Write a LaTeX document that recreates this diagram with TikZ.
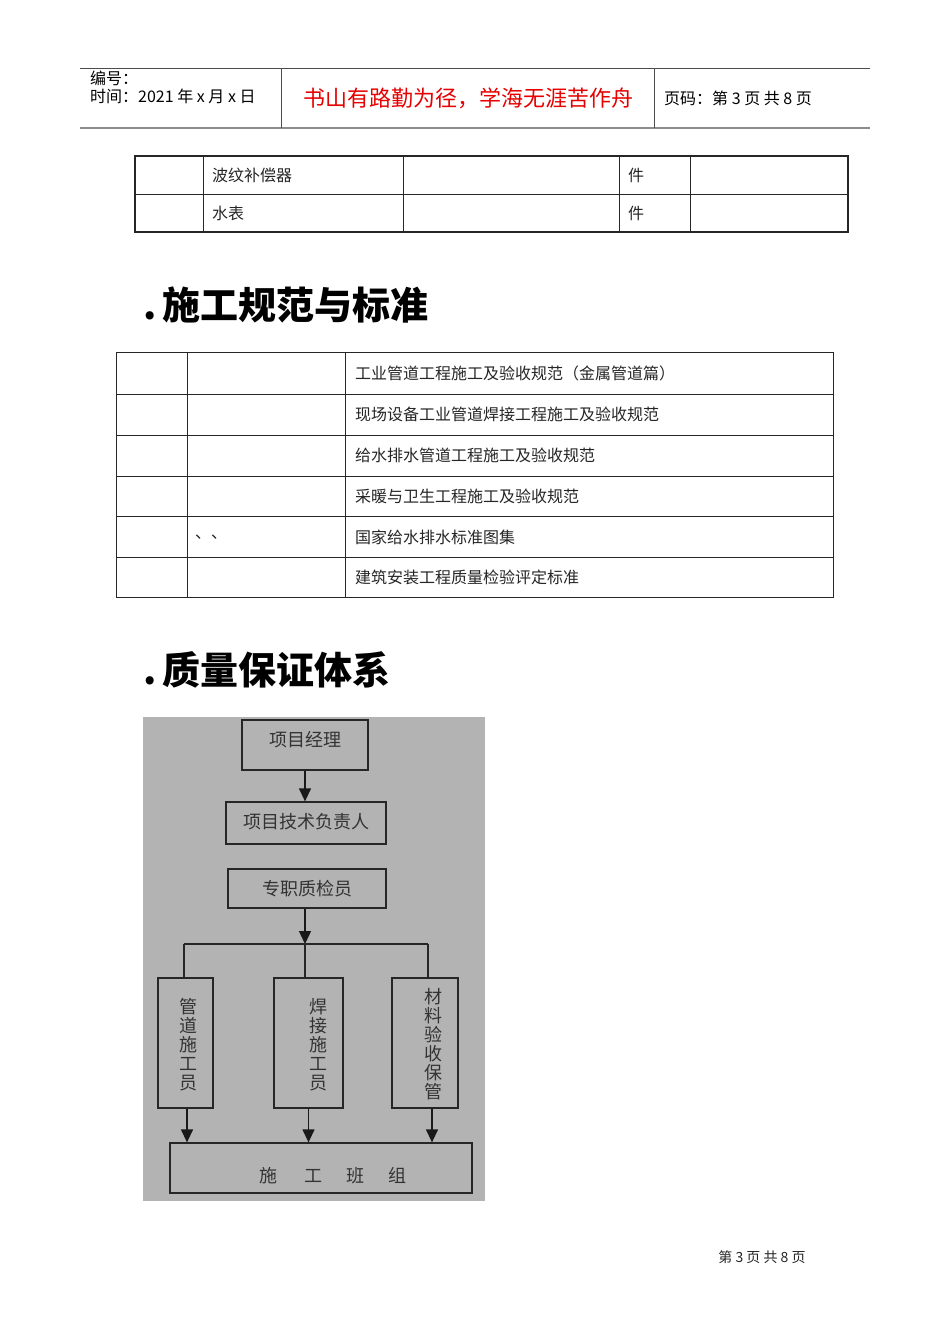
\documentclass[tikz,border=0pt]{standalone}
\usepackage{fontspec}
\setmainfont{Noto Sans CJK SC}
\usetikzlibrary{arrows.meta}
\definecolor{bggray}{RGB}{179,179,179}
\definecolor{hdrred}{RGB}{230,0,0}
\begin{document}
\begin{tikzpicture}[x=1pt,y=-1pt,
  cell/.style={anchor=west,inner sep=0pt,font=\fontsize{16}{16}\selectfont,text=black!85},
  hdr/.style={anchor=west,inner sep=0pt,font=\fontsize{16}{16}\selectfont},
  heading/.style={anchor=west,inner sep=0pt,font=\fontsize{38}{38}\selectfont\bfseries},
  fbox/.style={draw=black!85,line width=1.3pt,inner sep=0pt},
  ftext/.style={font=\fontsize{18}{19}\selectfont,text=black!80,inner sep=0pt,align=center},
  arr/.style={draw=black!90,-{Triangle[width=12pt,length=13pt]},line width=1.3pt},
  ln/.style={draw=black!85,line width=1.3pt},
  tab/.style={draw=black!85,line width=1pt}]
\fill[white] (0,0) rectangle (950,1344);
\useasboundingbox (0,0) rectangle (950,1344);

% header
\draw[black!70,line width=1pt] (80,68) -- (870,68);
\draw[black!45,line width=2pt] (80,128) -- (870,128);
\draw[black!70,line width=1pt] (281,68) -- (281,128);
\draw[black!70,line width=1pt] (654,68) -- (654,128);
\node[hdr] (h1) at (90,78) {编号：};
\node[hdr] (h2) at (90,96) {时间：2021 年 x 月 x 日};
\node[inner sep=0pt,font=\fontsize{22}{22}\selectfont,text=hdrred] (h3) at (468,98) {书山有路勤为径，学海无涯苦作舟};
\node[hdr] (h4) at (664,98) {页码：第 3 页 共 8 页};

% table 1
\draw[tab,line width=1.6pt] (135,156) rectangle (848,232);
\draw[tab] (135,194) -- (848,194);
\foreach \x in {203,403,619,690} \draw[tab] (\x,156) -- (\x,232);
\node[cell] (t1a) at (212,175) {波纹补偿器};
\node[cell] (t1b) at (628,175) {件};
\node[cell] (t2a) at (212,213) {水表};
\node[cell] (t2b) at (628,213) {件};

% heading 1
\node[heading] (sec1) at (143,305) {.\hspace{6pt}施工规范与标准};

% table 2
\draw[tab] (116,352) rectangle (833,597);
\foreach \y in {394,435,476,516,557} \draw[tab] (116,\y) -- (833,\y);
\foreach \x in {187,345} \draw[tab] (\x,352) -- (\x,597);
\node[cell] (s1) at (355,373) {工业管道工程施工及验收规范（金属管道篇）};
\node[cell] (s2) at (355,414) {现场设备工业管道焊接工程施工及验收规范};
\node[cell] (s3) at (355,455) {给水排水管道工程施工及验收规范};
\node[cell] (s4) at (355,496) {采暖与卫生工程施工及验收规范};
\node[cell] (s5a) at (195,537) {、、};
\node[cell] (s5) at (355,537) {国家给水排水标准图集};
\node[cell] (s6) at (355,577) {建筑安装工程质量检验评定标准};

% heading 2
\node[heading] (sec2) at (143,670) {.\hspace{6pt}质量保证体系};

% flowchart
\fill[bggray] (143,717) rectangle (485,1201);
\node[fbox,minimum width=126pt,minimum height=50pt] (pm) at (305,745) {};
\node[ftext] (pmt) at (305,740) {项目经理};
\node[fbox,minimum width=160pt,minimum height=42pt] (tech) at (306,823) {};
\node[ftext] (techt) at (306,822) {项目技术负责人};
\node[fbox,minimum width=158pt,minimum height=39pt] (qc) at (307,888.5) {};
\node[ftext] (qct) at (307,889) {专职质检员};
\node[fbox,minimum width=55pt,minimum height=130pt] (b1) at (185.5,1043) {};
\node[ftext] (b1t) at (188,1045) {管\\道\\施\\工\\员};
\node[fbox,minimum width=69pt,minimum height=130pt] (b2) at (308.5,1043) {};
\node[ftext] (b2t) at (318,1045) {焊\\接\\施\\工\\员};
\node[fbox,minimum width=66pt,minimum height=130pt] (b3) at (425,1043) {};
\node[ftext] (b3t) at (433,1044) {材\\料\\验\\收\\保\\管};
\node[fbox,minimum width=302pt,minimum height=50pt] (team) at (321,1168) {};
\node[ftext] (teamt) at (333,1176) {施\hspace{27pt}工\hspace{25pt}班\hspace{24pt}组};

\coordinate (j) at (305,944);
\coordinate (jl) at (184,944);
\coordinate (jr) at (428,944);
\draw[arr] (pm.south) -- (pm.south |- tech.north);
\draw[arr] (qc.south -| j) -- (j);
\draw[ln] (jl) -- (jr);
\draw[ln] (jl) -- (jl |- b1.north);
\draw[ln] (jr) -- (jr |- b3.north);
\draw[ln] (j) -- (j |- b2.north);
\draw[arr] ([xshift=1.5pt]b1.south) -- ([xshift=1.5pt]b1.south |- team.north);
\draw[arr] (b2.south) -- (b2.south |- team.north);
\draw[arr] ([xshift=7pt]b3.south) -- ([xshift=7pt]b3.south |- team.north);

% footer
\node[inner sep=0pt,font=\fontsize{14}{14}\selectfont,text=black!85] (foot) at (762,1257) {第 3 页 共 8 页};
\end{tikzpicture}
\end{document}
